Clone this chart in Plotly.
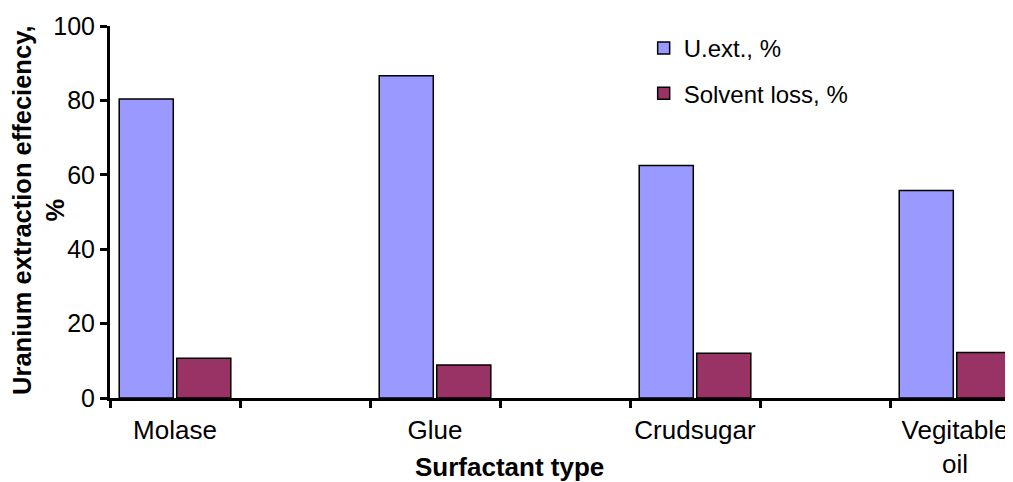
import plotly.graph_objects as go

categories = ["Molase", "Glue", "Crudsugar", "Vegitable<br>oil"]
u_ext = [80.4, 86.6, 62.5, 55.8]
solvent_loss = [10.7, 8.9, 12.0, 12.2]
y_ticks = [0, 20, 40, 60, 80, 100]

# every real category is followed by an empty slot, as in the original sheet
slots = []
for i, c in enumerate(categories):
    slots.append(c)
    slots.append(" " * (i + 1))

font = "Liberation Sans, Arial, sans-serif"

fig = go.Figure()
fig.add_trace(go.Bar(x=categories, y=u_ext, name="U.ext., %", legendgroup="a",
                     marker=dict(color="#9999FF", line=dict(color="black", width=1.5))))
fig.add_trace(go.Bar(x=categories, y=solvent_loss, name="Solvent loss, %", legendgroup="b",
                     marker=dict(color="#993366", line=dict(color="black", width=1.5))))

# page body has an 8px margin, so the figure is a bit smaller than the window
fig.update_layout(
    width=1005, height=474,
    margin=dict(l=102, r=0, t=18, b=84, autoexpand=False),
    plot_bgcolor="white", paper_bgcolor="white",
    font=dict(family=font, size=24, color="black"),
    barmode="group", bargap=0.115, bargroupgap=0.06,
    showlegend=True,
    legend=dict(x=0.591, y=1.0, xanchor="left", yanchor="top", traceorder="grouped",
                tracegroupgap=11, itemwidth=30, font=dict(size=24),
                bgcolor="rgba(0,0,0,0)"),
    annotations=[
        dict(text="<b>Surfactant type</b>", xref="paper", yref="paper",
             x=0.442, y=-0.185, xanchor="center", yanchor="middle",
             showarrow=False, font=dict(size=26)),
        dict(text="<b>Uranium extraction effeciency,<br>%</b>", xref="paper", yref="paper",
             x=-0.08, y=0.505, xanchor="center", yanchor="middle", textangle=-90,
             showarrow=False, font=dict(size=25.5)),
    ],
)
fig.update_xaxes(type="category", categoryorder="array", categoryarray=slots,
                 range=[-0.5, 6.446], showline=True, linecolor="black", linewidth=3,
                 ticks="outside", tickson="boundaries", ticklen=7, tickwidth=3,
                 tickcolor="black", tickfont=dict(size=26), ticklabelstandoff=7,
                 tickangle=0, automargin=False, showgrid=False)
fig.update_yaxes(range=[0, 100], tickvals=y_ticks, ticksuffix="\u2009\u2009",
                 showline=True, linecolor="black",
                 linewidth=3, ticks="outside", ticklen=7, tickwidth=3, tickcolor="black",
                 tickfont=dict(size=25), automargin=False,
                 showgrid=False, zeroline=False)

fig.write_html("out.html")
